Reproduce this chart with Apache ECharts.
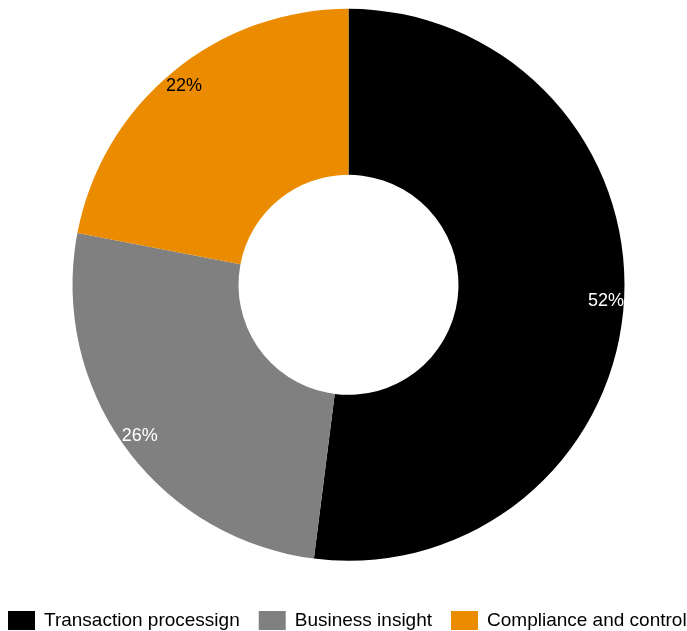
<!DOCTYPE html>
<html>
<head>
<meta charset="utf-8">
<script src="https://cdn.jsdelivr.net/npm/echarts@6/dist/echarts.min.js"></script>
<style>
  html, body { margin: 0; padding: 0; background: #ffffff; }
  #chart { width: 687px; height: 631px; }
</style>
</head>
<body>
<div id="chart"></div>
<script>
// Share of work by activity type
const categories = ['Transaction processign', 'Business insight', 'Compliance and control'];
const values = [52, 26, 22];

// Slice fills and the matching label colours
const sliceColors = ['#000000', '#808080', '#EA8B00'];
const labelColors = ['#ffffff', '#ffffff', '#000000'];

const FONT = '"Liberation Sans", Arial, sans-serif';
const CENTER = [348.5, 284.8];

const chart = echarts.init(document.getElementById('chart'), null, { renderer: 'canvas' });

const ringData = categories.map((name, i) => ({
  name,
  value: values[i],
  itemStyle: { color: sliceColors[i] }
}));

// Labels sit near the outer rim, so they ride on a transparent ring whose midline is there
const labelData = categories.map((name, i) => ({
  name,
  value: values[i],
  itemStyle: { color: 'rgba(0,0,0,0)' },
  label: { color: labelColors[i] }
}));

chart.setOption({
  animation: false,
  backgroundColor: '#ffffff',
  color: sliceColors,
  legend: {
    data: categories,
    left: 8,
    top: 611,
    padding: 0,
    orient: 'horizontal',
    icon: 'rect',
    itemWidth: 27,
    itemHeight: 19,
    itemGap: 19,
    selectedMode: false,
    textStyle: {
      fontFamily: FONT,
      fontSize: 19,
      color: '#000000',
      padding: [4, 0, 0, 4]
    }
  },
  series: [
    {
      type: 'pie',
      center: CENTER,
      radius: [110, 276],
      startAngle: 90,
      clockwise: true,
      silent: true,
      label: { show: false },
      labelLine: { show: false },
      itemStyle: { borderWidth: 0 },
      data: ringData
    },
    {
      type: 'pie',
      center: CENTER,
      radius: [234, 276],
      startAngle: 90,
      clockwise: true,
      silent: true,
      legendHoverLink: false,
      avoidLabelOverlap: false,
      label: {
        show: true,
        position: 'inside',
        formatter: '{c}%',
        fontFamily: FONT,
        fontSize: 18
      },
      labelLine: { show: false },
      itemStyle: { borderWidth: 0 },
      data: labelData
    }
  ]
});
</script>
</body>
</html>
